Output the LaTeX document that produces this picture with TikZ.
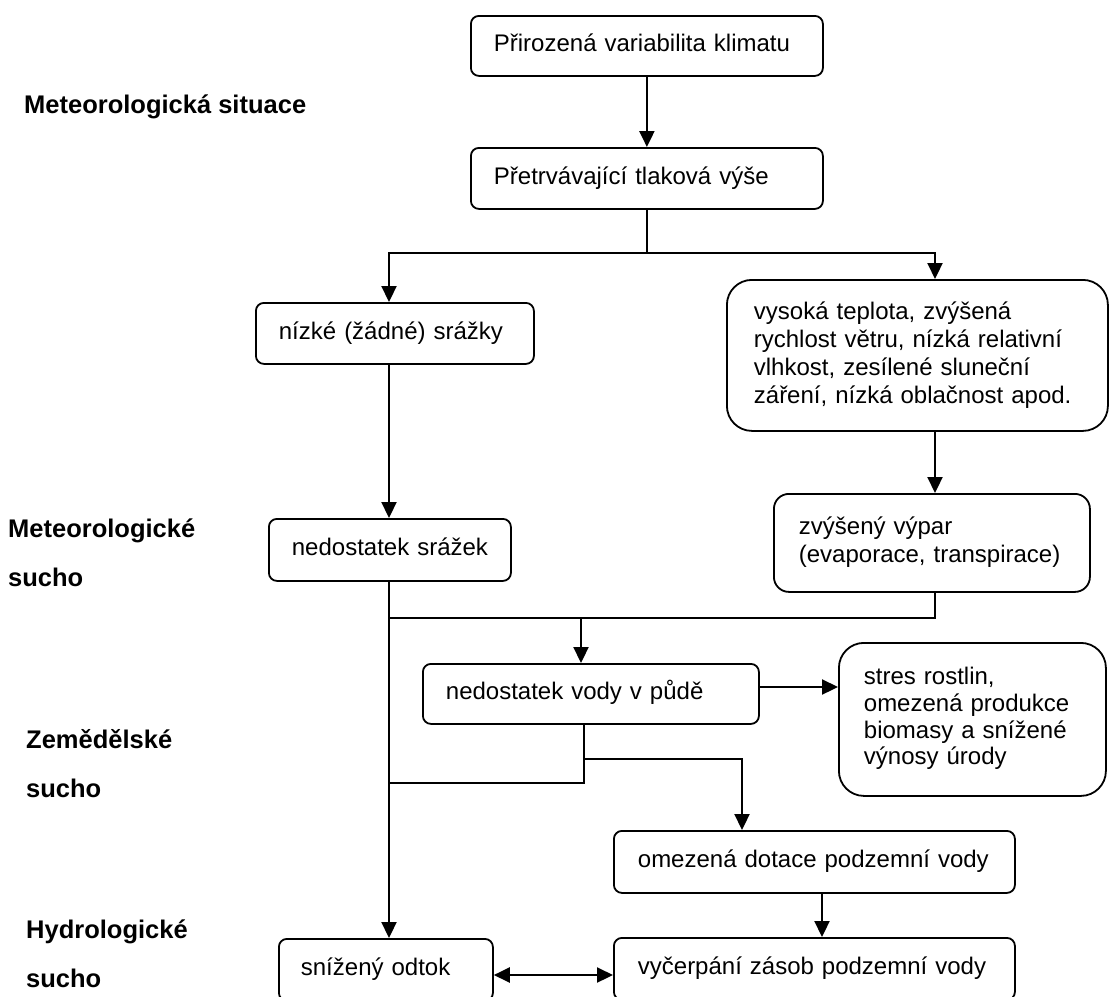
\documentclass[tikz,border=0pt]{standalone}
\usepackage{fontspec}
\setmainfont{Liberation Sans}
\usetikzlibrary{arrows.meta}
\begin{document}
\begin{tikzpicture}[x=1pt,y=-1pt,
  box/.style={draw, line width=1.8pt, anchor=north west, inner ysep=0pt, align=left, font=\fontsize{24}{28}\selectfont},
  lbl/.style={anchor=base west, align=left, inner sep=0pt, font=\bfseries\fontsize{25.5}{49}\selectfont},
  line/.style={line width=2.2pt},
  arr/.style={line width=2.2pt, -{Triangle[length=16pt,width=15pt]}},
  darr/.style={line width=2.2pt, {Triangle[length=16pt,width=15pt]}-{Triangle[length=16pt,width=15pt]}},
]
\useasboundingbox (0,0) rectangle (1110,996);

% boxes
\node[box, rounded corners=8pt, minimum width=352pt, minimum height=60pt, inner xsep=23pt, text width=306pt] (b1) at (470,15) {\strut Přirozená variabilita klimatu\strut};
\node[box, rounded corners=8pt, minimum width=352pt, minimum height=61pt, inner xsep=23pt, text width=306pt] (b2) at (470,147) {\strut Přetrvávající tlaková výše\strut};
\node[box, rounded corners=8pt, minimum width=278pt, minimum height=61pt, inner xsep=23pt, text width=232pt] (b3) at (255,302) {\strut nízké (žádné) srážky\strut};
\node[box, rounded corners=25pt, minimum width=381pt, minimum height=151pt, inner xsep=27pt, text width=327pt] (b4) at (726,279) {\strut vysoká teplota, zvýšená\\ rychlost větru, nízká relativní\\ vlhkost, zesílené sluneční\\ záření, nízká oblačnost apod.\strut};
\node[box, rounded corners=8pt, minimum width=242pt, minimum height=62pt, inner xsep=23pt, text width=196pt] (b7) at (268,518) {\strut nedostatek~srážek\strut};
\node[box, rounded corners=15pt, minimum width=316pt, minimum height=98pt, inner xsep=25pt, text width=266pt] (b5) at (773,493) {\strut zvýšený výpar\\ (evaporace,~transpirace)\strut};
\node[box, rounded corners=8pt, minimum width=336pt, minimum height=60pt, inner xsep=23pt, text width=290pt] (b6) at (422,663) {\strut nedostatek vody v půdě\strut};
\node[box, rounded corners=25pt, minimum width=267pt, minimum height=153pt, inner xsep=25pt, text width=217pt, font=\fontsize{24}{26.7}\selectfont] (st) at (838,642) {\strut stres rostlin,\\ omezená~produkce\\ biomasy~a~snížené\\ výnosy úrody\strut};
\node[box, rounded corners=8pt, minimum width=401pt, minimum height=62pt, inner xsep=24pt, text width=353pt] (om) at (613,830) {\strut omezená dotace podzemní vody\strut};
\node[box, rounded corners=8pt, minimum width=401pt, minimum height=62pt, inner xsep=24pt, text width=353pt] (vy) at (613,937) {\strut vyčerpání zásob podzemní vody\strut};
\node[box, rounded corners=8pt, minimum width=214pt, minimum height=62pt, inner xsep=22pt, text width=170pt] (sn) at (278,938) {\strut snížený odtok\strut};

% side labels (base anchor = baseline of the last line)
\node[lbl] (l1) at (24,113) {Meteorologická situace};
\node[lbl] (l2) at (8,586) {Meteorologické\\sucho};
\node[lbl] (l3) at (26,797) {Zemědělské\\sucho};
\node[lbl] (l4) at (26,987) {Hydrologické\\sucho};

% helper coordinates
\coordinate (cL) at (389,0);
\coordinate (cR) at (935,0);
\coordinate (cM) at (584,0);
\coordinate (cN) at (581,0);
\coordinate (cO) at (742,0);
\coordinate (cV) at (822,0);
\coordinate (ySplit) at (0,253);
\coordinate (yJ) at (0,618);
\coordinate (yA) at (0,687);
\coordinate (yB) at (0,783);
\coordinate (yC) at (0,759);
\coordinate (yD) at (0,975);
\coordinate (split) at (b2.south |- ySplit);
\coordinate (j1) at (cL |- yJ);
\coordinate (j2) at (cN |- yJ);

% connectors
\draw[arr] (b1) -- (b2);
\draw[line] (b2.south) -- (split);
\draw[arr] (split) -| (b3.north -| cL);
\draw[arr] (split) -| (b4.north -| cR);
\draw[arr] (b3.south -| cL) -- (b7.north -| cL);
\draw[arr] (b4.south -| cR) -- (b5.north -| cR);
\draw[arr] (b7.south -| cL) -- (sn.north -| cL);
\draw[line] (b5.south -| cR) |- (j1);
\draw[arr] (j2) -- (b6.north -| cN);
\draw[arr] (b6.east |- yA) -- (st.west |- yA);
\draw[line] (b6.south -| cM) |- (cL |- yB);
\draw[arr] (cM |- yC) -| (om.north -| cO);
\draw[arr] (om.south -| cV) -- (vy.north -| cV);
\draw[darr] (sn.east |- yD) -- (vy.west |- yD);
\end{tikzpicture}
\end{document}
